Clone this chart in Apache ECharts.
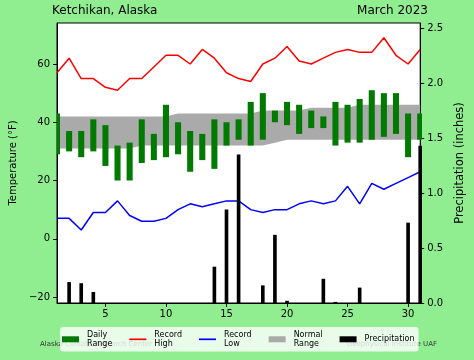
<!DOCTYPE html>
<html><head><meta charset="utf-8">
<script src="https://cdn.jsdelivr.net/npm/echarts@6/dist/echarts.min.js"></script>
<style>html,body{margin:0;padding:0;background:#90EE90;} #c{width:474px;height:360px;}</style>
</head><body><div id="c"></div>
<script>
const days = [1,2,3,4,5,6,7,8,9,10,11,12,13,14,15,16,17,18,19,20,21,22,23,24,25,26,27,28,29,30,31];
const recordHigh = [57,62,55,55,52,51,55,55,59,63,63,60,65,62,57,55,54,60,62,66,61,60,62,64,65,64,64,69,63,60,65];
const recordLow  = [7,7,3,9,9,13,8,6,6,7,10,12,11,12,13,13,10,9,10,10,12,13,12,13,18,12,19,17,19,21,23];
const dailyHigh  = [43,37,37,41,39,32,33,41,36,46,40,37,36,41,40,41,47,50,44,47,46,44,42,47,46,48,51,50,50,43,43];
const dailyLow   = [29,30,28,30,25,20,20,26,27,28,29,23,27,24,32,34,32,34,40,39,36,38,38,32,33,33,34,35,36,28,34];
const normalHigh = [42,42,42,42,42,42,42,42,42,42,43,43,43,43,43,43,43,44,44,44,44,45,45,45,45,46,46,46,46,46,46];
const normalLow  = [31,31,31,31,31,31,31,32,32,32,32,32,32,32,32,32,32,32,33,34,34,34,34,34,34,34,34,34,34,34,34];
const precip     = [0,0.19,0.18,0.10,0,0,0,0,0,0,0,0,0,0.33,0.85,1.35,0,0.16,0.62,0.02,0,0,0.22,0.01,0,0.14,0,0,0,0.73,1.43];
const xTicks = [5,10,15,20,25,30];
const tempTicks = [-20,0,20,40,60];
const precipTicks = [0,0.5,1.0,1.5,2.0,2.5];
const legendLabels = {'Daily Range':'Daily\nRange','Record High':'Record\nHigh','Record Low':'Record\nLow','Normal Range':'Normal\nRange','Precipitation':'Precipitation'};

const FONT = 'DejaVu Sans';
const chart = echarts.init(document.getElementById('c'), null, {renderer:'canvas'});
const linePath = 'path://M0 0H20V2H0Z';
const option = {
  backgroundColor: '#90EE90',
  animation: false,
  textStyle: {fontFamily: FONT},
  title: [
    {text:'Ketchikan, Alaska', left:52, top:5, padding:0, textStyle:{fontSize:12, fontWeight:'normal', color:'#000', fontFamily:FONT}},
    {text:'March 2023', right:46, top:5, padding:0, textStyle:{fontSize:12, fontWeight:'normal', color:'#000', fontFamily:FONT}}
  ],
  grid: {left:52, right:46, top:23, bottom:57, show:true, backgroundColor:'#fff', borderColor:'#000', borderWidth:1},
  xAxis: {
    type:'value', min:1, max:31,
    axisLine:{show:true, onZero:false, lineStyle:{color:'#000'}},
    axisTick:{show:true, length:4, customValues:xTicks, lineStyle:{color:'#000'}},
    axisLabel:{customValues:xTicks, margin:6, fontSize:10, color:'#000', fontFamily:FONT},
    splitLine:{show:false}
  },
  yAxis: [
    {
      type:'value', min:-22.06, max:74.08, position:'left',
      axisLine:{show:true, onZero:false, lineStyle:{color:'#000'}},
      axisTick:{show:true, length:4, customValues:tempTicks, lineStyle:{color:'#000'}},
      axisLabel:{customValues:tempTicks, margin:7, fontSize:10, color:'#000', fontFamily:FONT,
        formatter: v => String(v).replace('-', '\u2212')},
      splitLine:{show:false},
      name:'Temperature (\u00B0F)', nameLocation:'middle', nameGap:35, nameRotate:90,
      nameTextStyle:{fontSize:10, color:'#000', fontFamily:FONT}
    },
    {
      type:'value', min:0, max:2.545, position:'right',
      axisLine:{show:true, onZero:false, lineStyle:{color:'#000'}},
      axisTick:{show:true, length:4, customValues:precipTicks, lineStyle:{color:'#000'}},
      axisLabel:{customValues:precipTicks, margin:7, fontSize:10, color:'#000', fontFamily:FONT,
        formatter: v => v.toFixed(1)},
      splitLine:{show:false},
      name:'Precipitation (inches)', nameLocation:'middle', nameGap:29, nameRotate:90,
      nameTextStyle:{fontSize:11.5, color:'#000', fontFamily:FONT}
    }
  ],
  legend: {
    left:60, top:327, orient:'horizontal', z:10,
    itemWidth:17, itemHeight:6, itemGap:17, padding:[3,4,3,2],
    backgroundColor:'rgba(255,255,255,0.8)', borderRadius:3,
    textStyle:{fontSize:8, lineHeight:9.3, color:'#000', fontFamily:FONT, padding:[0,0,0,3]},
    formatter: n => legendLabels[n],
    selectedMode:false,
    data:[
      {name:'Daily Range', icon:'rect'},
      {name:'Record High', icon:linePath},
      {name:'Record Low', icon:linePath},
      {name:'Normal Range', icon:'rect'},
      {name:'Precipitation', icon:'rect'}
    ]
  },
  graphic: [
    {type:'text', left:40, top:341, z:0, style:{text:'Alaska Climate Research Center', fontSize:7, fill:'#333', fontFamily:FONT}},
    {type:'text', right:37, top:341, z:0, style:{text:'Geophysical Institute UAF', fontSize:7, fill:'#333', fontFamily:FONT}}
  ],
  series: [
    {
      type:'custom', name:'Normal Range', coordinateSystem:'cartesian2d', xAxisIndex:0, yAxisIndex:0, clip:true, z:1,
      itemStyle:{color:'#aaaaaa'},
      data: days.map((d,i)=>[d, normalLow[i], normalHigh[i]]),
      encode:{x:0, y:[1,2]},
      renderItem:(params, api)=>{
        if (params.dataIndex !== 0) return null;
        const pts = [];
        for (let i=0;i<days.length;i++) pts.push(api.coord([days[i], normalHigh[i]]));
        for (let i=days.length-1;i>=0;i--) pts.push(api.coord([days[i], normalLow[i]]));
        return {type:'polygon', shape:{points:pts}, style:{fill:'#aaaaaa'}};
      }
    },
    {
      type:'custom', name:'Daily Range', coordinateSystem:'cartesian2d', xAxisIndex:0, yAxisIndex:0, clip:true, z:2,
      itemStyle:{color:'#007a00'},
      data: days.map((d,i)=>[d, dailyLow[i], dailyHigh[i]]),
      encode:{x:0, y:[1,2]},
      renderItem:(params, api)=>{
        const x = api.value(0), lo = api.value(1), hi = api.value(2);
        const p1 = api.coord([x, hi]), p2 = api.coord([x, lo]);
        const w = api.size([0.5, 0])[0];
        return {type:'rect', shape:{x:p1[0]-w/2, y:p1[1], width:w, height:p2[1]-p1[1]}, style:{fill:'#007a00'}};
      }
    },
    {
      type:'line', name:'Record High', xAxisIndex:0, yAxisIndex:0, z:3, symbol:'none',
      lineStyle:{color:'#ff0000', width:1.5}, itemStyle:{color:'#ff0000'},
      data: days.map((d,i)=>[d, recordHigh[i]])
    },
    {
      type:'line', name:'Record Low', xAxisIndex:0, yAxisIndex:0, z:3, symbol:'none',
      lineStyle:{color:'#0000ff', width:1.5}, itemStyle:{color:'#0000ff'},
      data: days.map((d,i)=>[d, recordLow[i]])
    },
    {
      type:'custom', name:'Precipitation', coordinateSystem:'cartesian2d', xAxisIndex:0, yAxisIndex:1, clip:true, z:4,
      itemStyle:{color:'#000'},
      data: days.map((d,i)=>[d, precip[i]]),
      encode:{x:0, y:1},
      renderItem:(params, api)=>{
        const x = api.value(0), v = api.value(1);
        if (!v) return null;
        const p1 = api.coord([x, v]), p2 = api.coord([x, 0]);
        const w = api.size([0.3, 0])[0];
        return {type:'rect', shape:{x:p1[0]-w/2, y:p1[1], width:w, height:p2[1]-p1[1]}, style:{fill:'#000'}};
      }
    }
  ]
};
chart.setOption(option);
</script></body></html>
